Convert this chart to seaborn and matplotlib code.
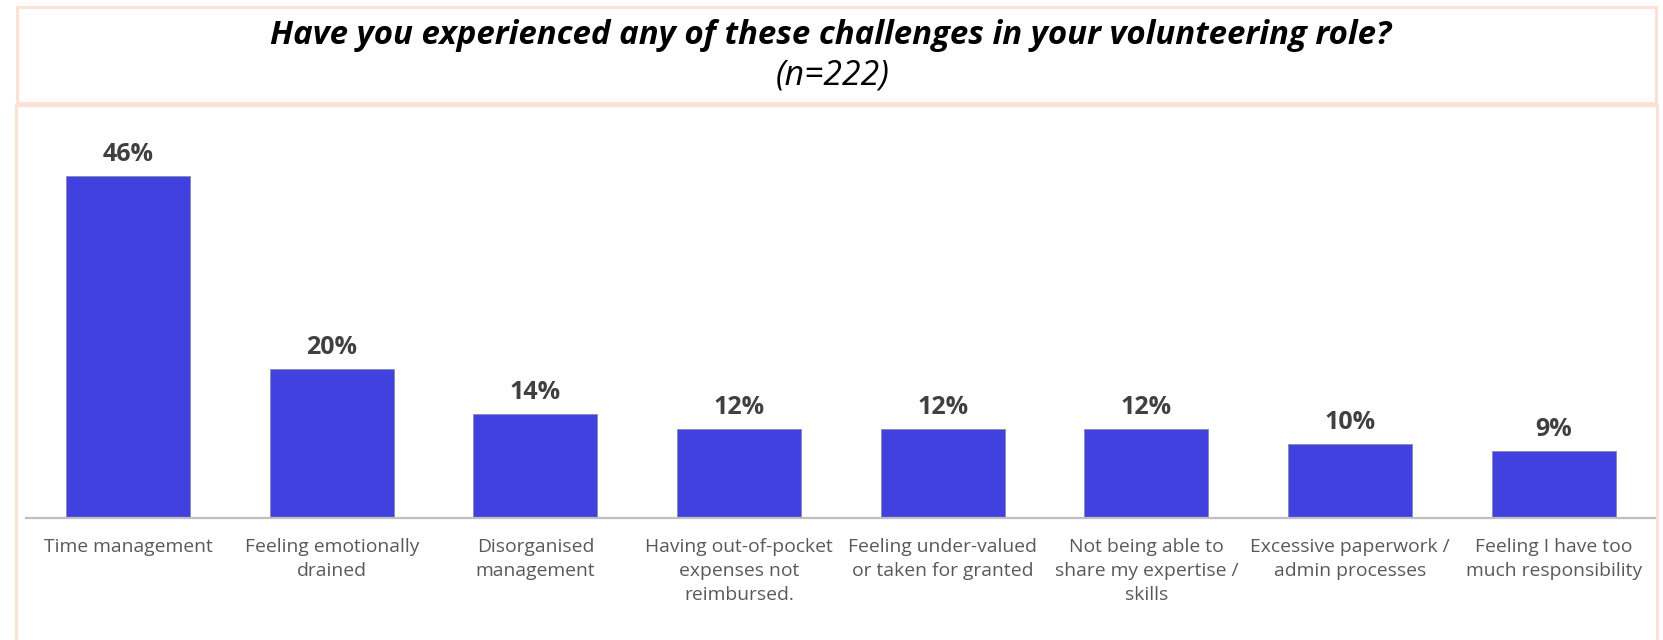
import matplotlib
matplotlib.use("Agg")
import matplotlib.pyplot as plt
from matplotlib.patches import Rectangle
import seaborn as sns
import pandas as pd

# Survey results
categories = [
    "Time management",
    "Feeling emotionally\ndrained",
    "Disorganised\nmanagement",
    "Having out-of-pocket\nexpenses not\nreimbursed.",
    "Feeling under-valued\nor taken for granted",
    "Not being able to\nshare my expertise /\nskills",
    "Excessive paperwork /\nadmin processes",
    "Feeling I have too\nmuch responsibility",
]
values = [46, 20, 14, 12, 12, 12, 10, 9]
value_labels = ["46%", "20%", "14%", "12%", "12%", "12%", "10%", "9%"]

title = "Have you experienced any of these challenges in your volunteering role?"
subtitle = "(n=222)"

BAR = "#4141DF"
BORDER = "#FDE1D6"
W, H = 1663, 640

sns.set_theme(style="white")
plt.rcParams["font.family"] = ["Open Sans", "DejaVu Sans"]

fig = plt.figure(figsize=(W / 100, H / 100), dpi=100)
fig.patch.set_facecolor("white")


def fx(px):
    return px / W


def fy(py):
    return 1 - py / H


# Title panel and chart panel outlines
fig.patches.append(Rectangle((fx(16.5), fy(103)), fx(1656 - 16.5), (103 - 7) / H,
                             transform=fig.transFigure, fill=False,
                             edgecolor=BORDER, linewidth=2.2))
fig.patches.append(Rectangle((fx(16), fy(660)), fx(1657 - 16), (660 - 105) / H,
                             transform=fig.transFigure, fill=False,
                             edgecolor=BORDER, linewidth=2.2))

fig.text(fx(831), fy(35), title, ha="center", va="center", fontsize=23.8,
         fontweight="bold", fontstyle="italic", color="black")
fig.text(fx(833), fy(75), subtitle, ha="center", va="center", fontsize=24.3,
         fontstyle="italic", color="black")

ax = fig.add_axes([fx(26.2), fy(518), fx(1655.5 - 26.2), (518 - 110) / H])
df = pd.DataFrame({"category": categories, "value": values})
sns.barplot(data=df, x="category", y="value", color=BAR, saturation=1,
            width=0.61, edgecolor="#8c8cb8", linewidth=0.7, ax=ax)

ax.set_xlim(-0.5, len(categories) - 0.5)
ax.set_ylim(0, 54.84)
ax.set_xlabel("")
ax.set_ylabel("")
ax.set_yticks([])
for side in ["top", "right", "left"]:
    ax.spines[side].set_visible(False)
ax.spines["bottom"].set_color("#BFBFBF")
ax.spines["bottom"].set_linewidth(1.6)
ax.tick_params(axis="x", length=0, pad=14.5, labelsize=13.9, labelcolor="#595959")
for lbl in ax.get_xticklabels():
    lbl.set_linespacing(1.42)

for i, (v, t) in enumerate(zip(values, value_labels)):
    ax.annotate(t, (i, v), xytext=(0, 15.5), textcoords="offset points",
                ha="center", va="center", fontsize=18, fontweight="bold",
                color="#404040")

fig.savefig("out.png", dpi=100, facecolor="white")
